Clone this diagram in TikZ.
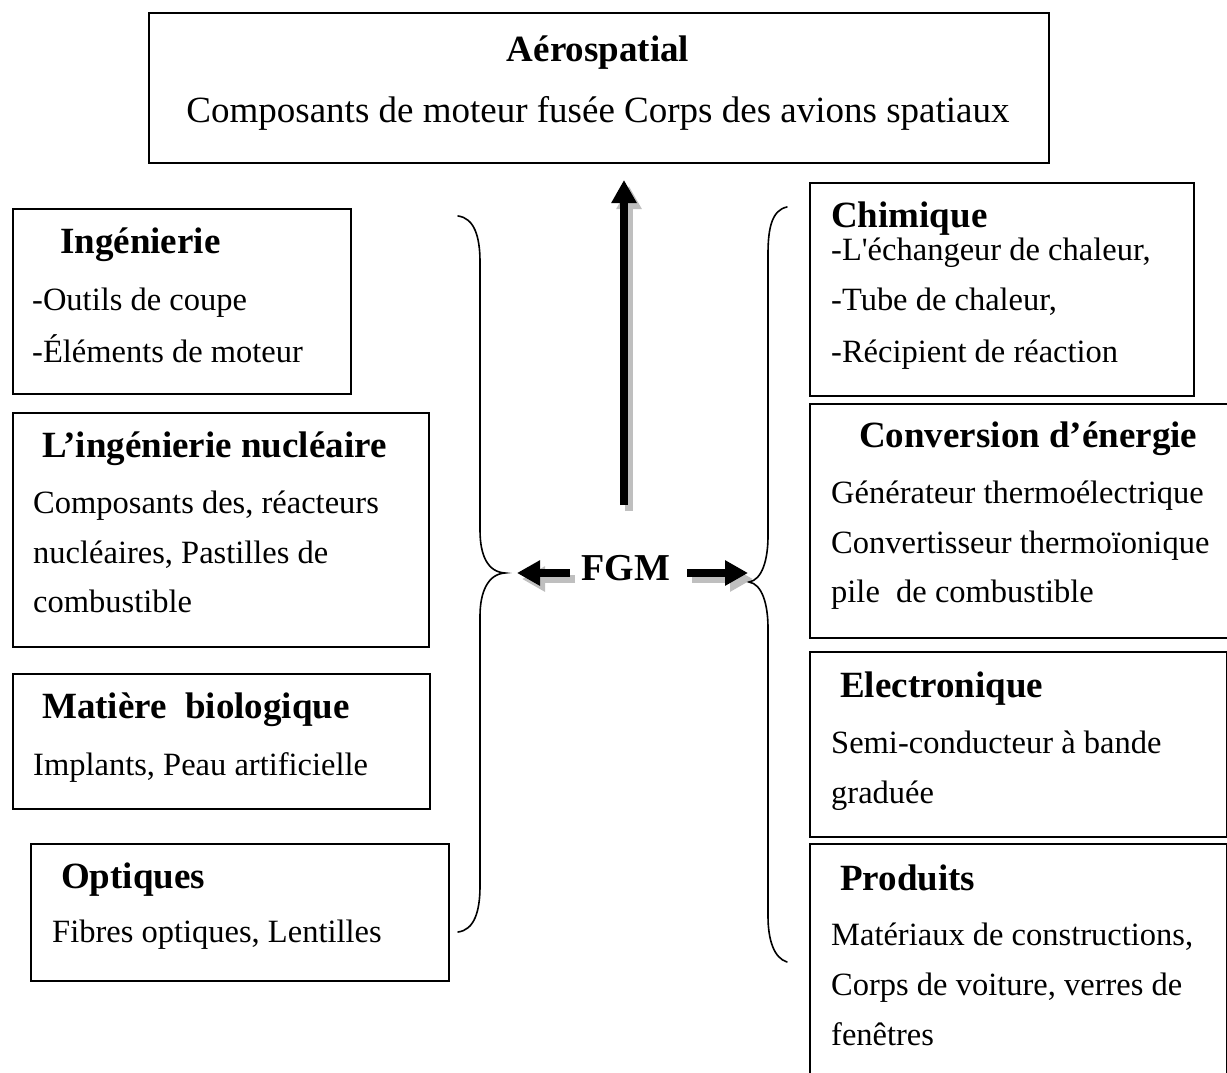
\documentclass[tikz,border=0pt]{standalone}
\usepackage{fontspec}
\setmainfont{Liberation Serif}
\newfontfamily\plainserif{Liberation Serif}
\usetikzlibrary{arrows.meta}
\begin{document}
\begin{tikzpicture}[x=1pt,y=-1pt,
  box/.style={draw, line width=1.8pt, inner sep=0pt, anchor=north west},
  ttl/.style={font=\fontsize{37}{40}\selectfont\bfseries, anchor=base west, inner sep=0pt},
  txt/.style={font=\fontsize{32.5}{36}\selectfont, anchor=base west, inner sep=0pt},
  fatarrow/.style={line width=8pt, -{Triangle[width=24pt,length=23pt]}},
  shadowarrow/.style={fatarrow, draw=black!25, color=black!25},
  brace/.style={line width=1.6pt, line cap=round}
]
\useasboundingbox (0,0) rectangle (1227,1073);

% ---- top box
\node[box, minimum width=900pt, minimum height=150pt] (aero) at (148,12) {};
\node[ttl, anchor=base] (aeroT) at (598,62) {Aérospatial};
\node[txt, font=\fontsize{37}{40}\selectfont, anchor=base] (aeroL) at (598,122)
  {Composants de moteur fusée Corps des avions spatiaux};

% ---- left column
\node[box, minimum width=338pt, minimum height=185pt] (ing) at (12,208) {};
\node[ttl] (ingT) at (60,253) {Ingénierie};
\node[txt] (ingA) at (32,310) {-Outils de coupe};
\node[txt] (ingB) at (32,362) {-Éléments de moteur};

\node[box, minimum width=416pt, minimum height=234pt] (nuc) at (12,412) {};
\node[ttl] (nucT) at (42,457) {L’ingénierie nucléaire};
\node[txt] (nucA) at (33,513) {Composants des, réacteurs};
\node[txt] (nucB) at (33,563) {nucléaires, Pastilles de};
\node[txt] (nucC) at (33,612) {combustible};

\node[box, minimum width=417pt, minimum height=135pt] (bio) at (12,673) {};
\node[ttl] (bioT) at (42,718) {Matière\ \ biologique};
\node[txt] (bioA) at (33,775) {Implants, Peau artificielle};

\node[box, minimum width=418pt, minimum height=137pt] (opt) at (30,843) {};
\node[ttl] (optT) at (61,888) {Optiques};
\node[txt] (optA) at (52,942) {Fibres optiques, Lentilles};

% ---- right column
\node[box, minimum width=384pt, minimum height=213pt] (chim) at (809,182) {};
\node[ttl] (chimT) at (831,227) {Chimique};
\node[txt] (chimA) at (831,260) {-L{\plainserif'}échangeur de chaleur,};
\node[txt] (chimB) at (831,310) {-Tube de chaleur,};
\node[txt] (chimC) at (831,362) {-Récipient de réaction};

\node[box, minimum width=425pt, minimum height=234pt] (conv) at (809,403) {};
\node[ttl] (convT) at (859,447) {Conversion d’énergie};
\node[txt] (convA) at (831,503) {Générateur thermoélectrique};
\node[txt] (convB) at (831,553) {Convertisseur thermoïonique};
\node[txt] (convC) at (831,602) {pile\ \ de combustible};

\node[box, minimum width=417pt, minimum height=185pt] (elec) at (809,651) {};
\node[ttl] (elecT) at (840,697) {Electronique};
\node[txt] (elecA) at (831,753) {Semi-conducteur à bande};
\node[txt] (elecB) at (831,803) {graduée};

\node[box, minimum width=417pt, minimum height=240pt] (prod) at (809,843) {};
\node[ttl] (prodT) at (840,890) {Produits};
\node[txt] (prodA) at (831,945) {Matériaux de constructions,};
\node[txt] (prodB) at (831,995) {Corps de voiture, verres de};
\node[txt] (prodC) at (831,1045) {fenêtres};

% ---- centre label
\node[font=\fontsize{38}{40}\selectfont\bfseries, anchor=base, inner sep=0pt] (fgm) at (626,580) {FGM};

% ---- arrow end points
\coordinate (upTail) at (624,505);
\coordinate (upTip)  at (624,180);
\coordinate (lTail)  at (570,573);
\coordinate (lTip)   at (517,573);
\coordinate (rTail)  at (687,573);
\coordinate (rTip)   at (748,573);

% shadows first, then the black arrows
\draw[shadowarrow] ([shift={(5,6)}]upTail) -- ([shift={(5,6)}]upTip);
\draw[shadowarrow] ([shift={(5,6)}]lTail) -- ([shift={(5,6)}]lTip);
\draw[shadowarrow] ([shift={(5,6)}]rTail) -- ([shift={(5,6)}]rTip);
\draw[fatarrow] (upTail) -- (upTip);
\draw[fatarrow] (lTail) -- (lTip);
\draw[fatarrow] (rTail) -- (rTip);

% ---- braces
\coordinate (lBraceTip) at (505,573);
\coordinate (rBraceTip) at (749,582);
\draw[brace] (458,216) .. controls (474,218) and (480,236) .. (480,262)
  -- (480,530) .. controls (480,556) and (488,572) .. (lBraceTip)
  .. controls (488,574) and (480,592) .. (480,616)
  -- (480,886) .. controls (480,912) and (474,930) .. (458,932);
\draw[brace] (787,207) .. controls (772,210) and (768,228) .. (768,254)
  -- (768,536) .. controls (768,560) and (762,580) .. (rBraceTip)
  .. controls (762,584) and (768,604) .. (768,628)
  -- (768,916) .. controls (768,940) and (774,958) .. (787,962);
\end{tikzpicture}
\end{document}
